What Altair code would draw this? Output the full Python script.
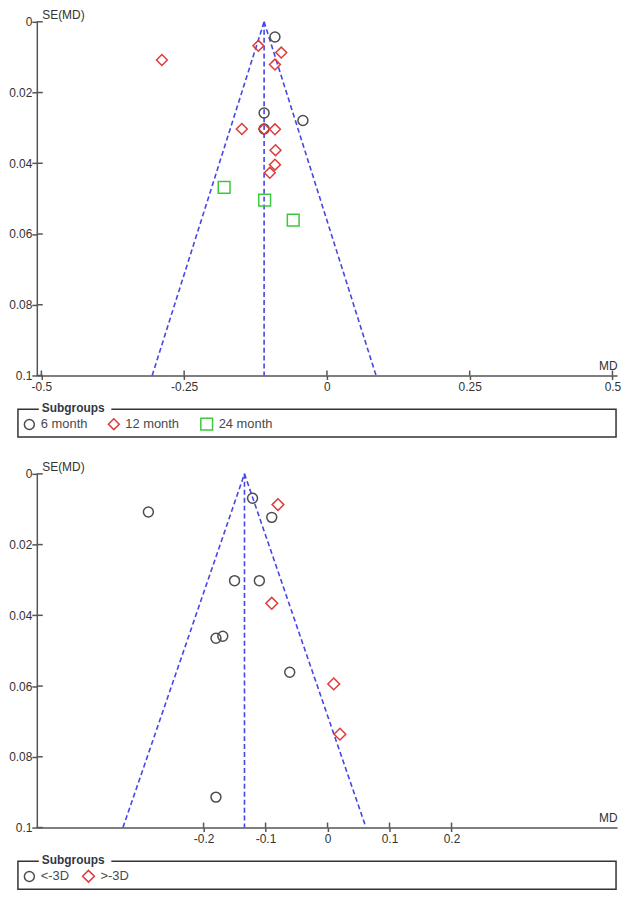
import altair as alt
import pandas as pd

FONT = "Liberation Sans"

# ---------------- data: top funnel plot (follow-up time) ----------------
top_groups = ["6 month", "12 month", "24 month"]
top_colors = ["#4d4d4d", "#e03a3a", "#3cc83c"]
top_shapes = ["circle", "diamond", "square"]
top_sizes = [100, 140, 70]

top_md_6 = [-0.091, -0.110, -0.110, -0.042]
top_se_6 = [0.0043, 0.0258, 0.0303, 0.0279]
top_md_12 = [-0.289, -0.120, -0.080, -0.091, -0.149, -0.110, -0.091, -0.090, -0.091, -0.100]
top_se_12 = [0.0108, 0.0068, 0.0087, 0.0121, 0.0303, 0.0303, 0.0304, 0.0363, 0.0404, 0.0427]
top_md_24 = [-0.180, -0.109, -0.059]
top_se_24 = [0.0468, 0.0504, 0.0561]
top_pooled = -0.110
top_funnel_lo = -0.306
top_funnel_hi = 0.086
top_xticks = [-0.5, -0.25, 0, 0.25, 0.5]
top_xdomain = [-0.508, 0.508]

# ---------------- data: bottom funnel plot (subgroups) ----------------
bot_groups = ["<-3D", ">-3D"]
bot_colors = ["#4d4d4d", "#e03a3a"]
bot_shapes = ["circle", "diamond"]
bot_sizes = [100, 140]

bot_md_a = [-0.289, -0.121, -0.090, -0.150, -0.110, -0.180, -0.169, -0.061, -0.180]
bot_se_a = [0.0108, 0.0069, 0.0123, 0.0302, 0.0302, 0.0465, 0.0459, 0.0561, 0.0914]
bot_md_b = [-0.080, -0.090, 0.010, 0.020]
bot_se_b = [0.0087, 0.0366, 0.0594, 0.0736]
bot_pooled = -0.134
bot_funnel_lo = -0.330
bot_funnel_hi = 0.062
bot_xticks = [-0.2, -0.1, 0, 0.1, 0.2]
bot_xdomain = [-0.469, 0.467]

yticks = [0, 0.02, 0.04, 0.06, 0.08, 0.1]

AXIS_COLOR = "#555555"
LABEL_COLOR = "#333333"
FUNNEL_COLOR = "#4646e6"
W = 584
OX = 38  # approx page x of plot origin, used to place the legend frame


def section(md_lists, se_lists, groups, colors, shapes, sizes, pooled, lo, hi,
            xdomain, xticks, H, col_pad, field):
    rows = []
    for g, mds, ses in zip(groups, md_lists, se_lists):
        for m, s in zip(mds, ses):
            rows.append({field: g, "md": m, "se": s})
    pts = pd.DataFrame(rows)

    funnel = pd.DataFrame({
        "line": ["L", "L", "R", "R", "C", "C"],
        "md": [pooled, lo, pooled, hi, pooled, pooled],
        "se": [0, 0.1, 0, 0.1, 0, 0.1],
    })

    x_enc = alt.X(
        "md:Q",
        scale=alt.Scale(domain=xdomain, nice=False, zero=False),
        axis=alt.Axis(
            values=xticks, labelExpr="toString(datum.value)", grid=False,
            title="MD", titleX=W, titleY=-3, titleAlign="right",
            titleBaseline="bottom", titleFontWeight="normal", titleFontSize=12,
            titleColor=LABEL_COLOR, domainColor=AXIS_COLOR, domainWidth=1.5,
            tickColor=AXIS_COLOR, tickWidth=1.5, tickSize=4, labelPadding=2,
            labelFontSize=12, labelColor=LABEL_COLOR, labelFlush=False,
            labelOverlap=False,
        ),
    )
    y_enc = alt.Y(
        "se:Q",
        scale=alt.Scale(domain=[0, 0.1], reverse=True, nice=False, zero=False),
        axis=alt.Axis(
            values=yticks, labelExpr="toString(datum.value)", grid=False,
            title="SE(MD)", titleAngle=0, titleX=5, titleY=0,
            titleAlign="left", titleBaseline="bottom", titleFontWeight="normal",
            titleFontSize=12, titleColor=LABEL_COLOR, domainColor=AXIS_COLOR,
            domainWidth=1.5, tickColor=AXIS_COLOR, tickWidth=1.5, tickSize=5,
            labelPadding=0, labelFontSize=12, labelColor=LABEL_COLOR,
            labelOverlap=False,
        ),
    )

    one = pd.DataFrame({"k": [0]})
    frame = alt.Chart(one).mark_rect(
        filled=False, stroke="#333333", strokeWidth=1.5
    ).encode(
        x=alt.value(19 - OX), x2=alt.value(621 - OX),
        y=alt.value(H + 34), y2=alt.value(H + 62),
    )
    gap = alt.Chart(one).mark_rect(fill="white").encode(
        x=alt.value(40 - OX), x2=alt.value(113 - OX),
        y=alt.value(H + 31), y2=alt.value(H + 37),
    )
    title = alt.Chart(one).mark_text(
        text="Subgroups", align="left", baseline="middle", fontSize=12,
        fontWeight="bold", color="#303846", font=FONT,
    ).encode(x=alt.value(43 - OX), y=alt.value(H + 33))

    lines = alt.Chart(funnel).mark_line(
        color=FUNNEL_COLOR, strokeDash=[5, 3], strokeWidth=1.6
    ).encode(x=x_enc, y=y_enc, detail="line:N")

    xt = alt.Chart(pd.DataFrame({"md": xticks})).mark_rule(
        color=AXIS_COLOR, strokeWidth=1.5
    ).encode(x=x_enc, y=alt.value(H), y2=alt.value(H - 5))
    yt = alt.Chart(pd.DataFrame({"se": yticks})).mark_rule(
        color=AXIS_COLOR, strokeWidth=1.5
    ).encode(y=y_enc, x=alt.value(0), x2=alt.value(6))

    leg = alt.Legend(
        title=None, orient="none", legendX=24 - OX, legendY=H + 42,
        direction="horizontal", symbolSize=100, symbolStrokeWidth=1.5,
        labelFontSize=13, labelFont=FONT, labelColor="#4a4a4a",
        labelOffset=5, columnPadding=col_pad, padding=0,
    )
    points = alt.Chart(pts).mark_point(filled=False, strokeWidth=1.5, opacity=1).encode(
        x=x_enc, y=y_enc,
        color=alt.Color(f"{field}:N", scale=alt.Scale(domain=groups, range=colors), legend=leg),
        shape=alt.Shape(f"{field}:N", scale=alt.Scale(domain=groups, range=shapes), legend=leg),
        size=alt.Size(f"{field}:N", scale=alt.Scale(domain=groups, range=sizes), legend=None),
    )

    return alt.layer(frame, gap, title, lines, xt, yt, points).properties(width=W, height=H)


top = section([top_md_6, top_md_12, top_md_24], [top_se_6, top_se_12, top_se_24],
              top_groups, top_colors, top_shapes, top_sizes, top_pooled,
              top_funnel_lo, top_funnel_hi, top_xdomain, top_xticks, 356, 18, "followup")
bottom = section([bot_md_a, bot_md_b], [bot_se_a, bot_se_b],
                 bot_groups, bot_colors, bot_shapes, bot_sizes, bot_pooled,
                 bot_funnel_lo, bot_funnel_hi, bot_xdomain, bot_xticks, 356, 10, "subgroup")

chart = alt.vconcat(top, bottom, spacing=23).resolve_scale(
    color="independent", shape="independent", size="independent"
).resolve_legend(
    color="independent", shape="independent"
).properties(
    padding={"top": -2, "left": 0, "right": 0, "bottom": 0}
).configure(font=FONT).configure_view(stroke=None)

chart.save("out.html", embed_options={"renderer": "svg", "actions": False})
